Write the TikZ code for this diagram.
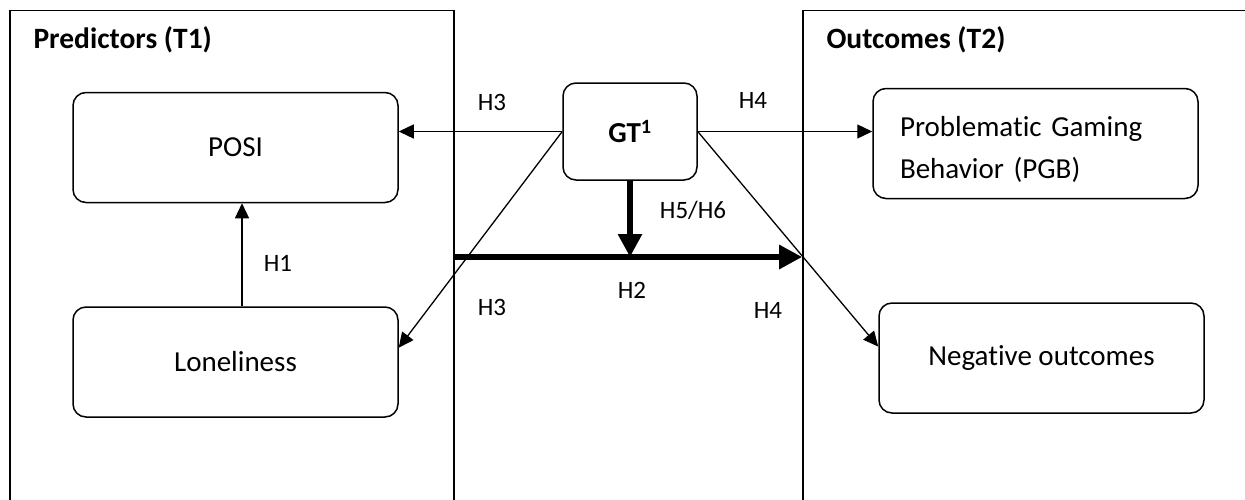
\documentclass[tikz,border=0pt]{standalone}
\usepackage{fontspec}
\setmainfont{Carlito}[Ligatures=NoCommon]
\usetikzlibrary{arrows.meta}
\begin{document}
\begin{tikzpicture}[
   x=1pt,y=-1pt,
   font=\fontsize{29}{42}\selectfont,
   panel/.style={draw,line width=1.6pt,inner sep=0pt},
   state/.style={draw,line width=1.5pt,rounded corners=13pt,minimum width=325pt,minimum height=110pt,inner sep=0pt},
   to/.style={-{Triangle[length=15pt,width=14pt]},line width=1.3pt},
   big/.style={-{Triangle[length=23pt,width=23pt]},line width=6.5pt},
   lab/.style={font=\fontsize{25}{28}\selectfont},
   title/.style={font=\fontsize{29.5}{33}\selectfont\bfseries,anchor=west}]
\useasboundingbox (0,0) rectangle (1245,499);
\clip (0,0) rectangle (1245,499);
% panels
\node[panel,minimum width=444pt,minimum height=510pt] (pred) at (232,265.5) {};
\node[panel,minimum width=467pt,minimum height=510pt] (outc) at (1036.5,265.5) {};
\node[title] (predT) at (30,40) {Predictors (T1)};
\node[title] (outcT) at (823,40) {Outcomes (T2)};
% variables
\node[state] (POSI) at (235.5,147.5) {POSI};
\node[state] (Lone) at (235.5,362) {Loneliness};
\node[state,minimum width=134pt,minimum height=97pt] (GT) at (630,131.5) {\textbf{GT\textsuperscript{1}}};
\node[state,text width=271pt,inner xsep=27pt,align=left] (PGB) at (1035.5,143.5) {\rule{0pt}{32pt}\hbox{Problematic Gaming}\\\hbox{Behavior (PGB)}};
\node[state] (Neg) at (1041.5,358) {Negative outcomes};
\coordinate (mid) at (630,257);
% paths
\draw[to] ([xshift=6.5pt]Lone.north) -- ([xshift=6.5pt]POSI.south);
\draw[to] (GT.west) -- (GT.west -| POSI.east);
\draw[to] (GT.east) -- (GT.east -| PGB.west);
\draw[to] (GT.west) -- (Lone.5);
\draw[to] (GT.east) -- (Neg.176);
\draw[big] (pred.east |- mid) -- (outc.west |- mid);
\draw[big] (GT.south) -- (mid);
% labels
\node[lab] (lH1) at (278,263) {H1};
\node[lab] (lH3a) at (492,102) {H3};
\node[lab] (lH4a) at (753,100) {H4};
\node[lab] (lH3b) at (492,307) {H3};
\node[lab] (lH4b) at (768,310) {H4};
\node[lab] (lH2) at (632,290) {H2};
\node[lab] (lH56) at (693,210) {H5/H6};
\end{tikzpicture}
\end{document}
